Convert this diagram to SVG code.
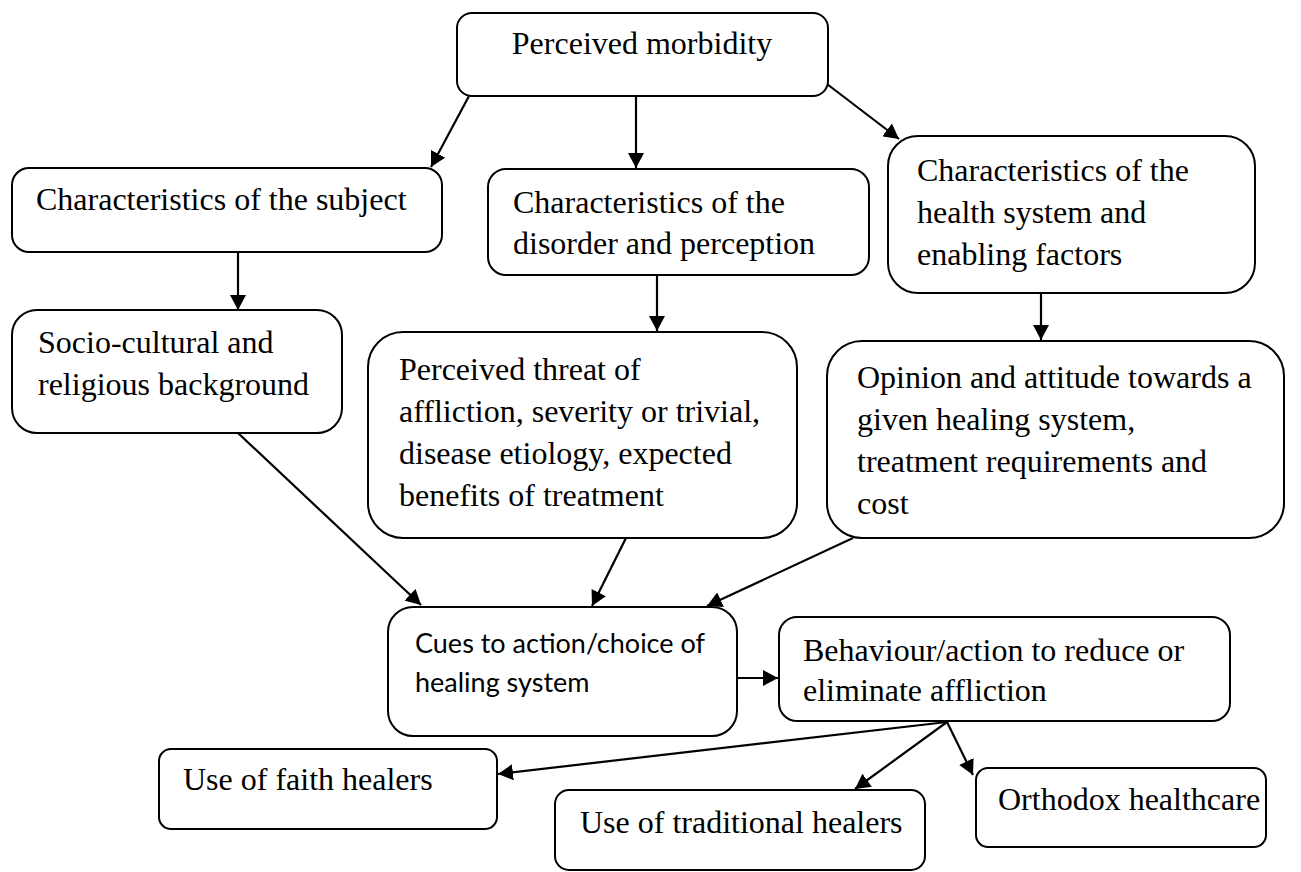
<svg xmlns="http://www.w3.org/2000/svg" width="1301" height="872" viewBox="0 0 1301 872">
<defs>
<marker id="ah" markerUnits="userSpaceOnUse" markerWidth="16" markerHeight="16" refX="15" refY="8" orient="auto">
<path d="M0,0 L15,8 L0,16 z" fill="#000"/>
</marker>
<style>
.box{fill:#fff;stroke:#000;stroke-width:2}
.c{stroke:#000;stroke-width:2.2;fill:none;marker-end:url(#ah)}
.t{font-family:"Liberation Serif","Times New Roman",serif;font-size:32px;fill:#000}
.s{font-family:Lato,"Open Sans","Liberation Sans",sans-serif;font-size:27px;fill:#000}
</style>
</defs>
<rect width="1301" height="872" fill="#fff"/>
<g id="connectors">
<line class="c" x1="469" y1="96" x2="431" y2="167"/>
<line class="c" x1="636" y1="96" x2="636" y2="168"/>
<line class="c" x1="827" y1="84" x2="899" y2="139"/>
<line class="c" x1="238" y1="252" x2="238" y2="310"/>
<line class="c" x1="657" y1="275" x2="657" y2="331"/>
<line class="c" x1="1041" y1="293" x2="1041" y2="340"/>
<line class="c" x1="238" y1="433" x2="421" y2="605"/>
<line class="c" x1="626" y1="538" x2="592" y2="606"/>
<line class="c" x1="853" y1="538" x2="707" y2="606"/>
<line class="c" x1="737" y1="678" x2="778" y2="678"/>
<line class="c" x1="947" y1="722" x2="498" y2="774"/>
<line class="c" x1="947" y1="722" x2="855" y2="789"/>
<line class="c" x1="947" y1="722" x2="973" y2="775"/>
</g>
<g id="n-perceived-morbidity">
<rect class="box" x="457" y="13" width="371" height="83" rx="15"/>
<text class="t" x="642" y="54" text-anchor="middle">Perceived morbidity</text>
</g>
<g id="n-subject">
<rect class="box" x="12" y="168" width="430" height="84" rx="17"/>
<text class="t" x="36" y="210">Characteristics of the subject</text>
</g>
<g id="n-disorder">
<rect class="box" x="488" y="169" width="381" height="106" rx="18"/>
<text class="t" x="513" y="213">Characteristics of the</text>
<text class="t" x="513" y="254">disorder and perception</text>
</g>
<g id="n-health">
<rect class="box" x="888" y="136" width="367" height="157" rx="30"/>
<text class="t" x="917" y="181">Characteristics of the</text>
<text class="t" x="917" y="223">health system and</text>
<text class="t" x="917" y="265">enabling factors</text>
</g>
<g id="n-socio">
<rect class="box" x="12" y="310" width="330" height="123" rx="25"/>
<text class="t" x="38" y="353">Socio-cultural and</text>
<text class="t" x="38" y="395">religious background</text>
</g>
<g id="n-threat">
<rect class="box" x="368" y="332" width="429" height="206" rx="35"/>
<text class="t" x="399" y="380">Perceived threat of</text>
<text class="t" x="399" y="422">affliction, severity or trivial,</text>
<text class="t" x="399" y="464">disease etiology, expected</text>
<text class="t" x="399" y="506">benefits of treatment</text>
</g>
<g id="n-opinion">
<rect class="box" x="827" y="341" width="457" height="197" rx="35"/>
<text class="t" x="857" y="388">Opinion and attitude towards a</text>
<text class="t" x="857" y="430">given healing system,</text>
<text class="t" x="857" y="472">treatment requirements and</text>
<text class="t" x="857" y="514">cost</text>
</g>
<g id="n-cues">
<rect class="box" x="388" y="607" width="349" height="129" rx="25"/>
<text class="s" x="415" y="653">Cues to action/choice of</text>
<text class="s" x="415" y="692">healing system</text>
</g>
<g id="n-behaviour">
<rect class="box" x="779" y="617" width="451" height="104" rx="18"/>
<text class="t" x="803" y="661">Behaviour/action to reduce or</text>
<text class="t" x="803" y="701">eliminate affliction</text>
</g>
<g id="n-faith">
<rect class="box" x="159" y="749" width="338" height="80" rx="12"/>
<text class="t" x="183" y="790">Use of faith healers</text>
</g>
<g id="n-traditional">
<rect class="box" x="555" y="790" width="370" height="80" rx="14"/>
<text class="t" x="580" y="833">Use of traditional healers</text>
</g>
<g id="n-orthodox">
<rect class="box" x="976" y="768" width="290" height="79" rx="12"/>
<text class="t" x="998" y="810">Orthodox healthcare</text>
</g>
</svg>
